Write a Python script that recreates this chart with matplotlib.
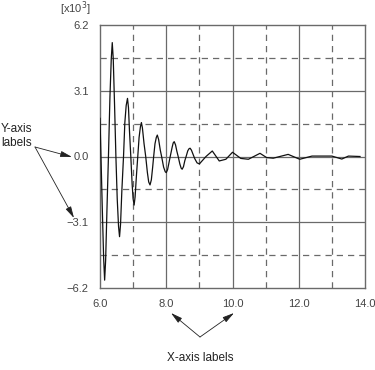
import matplotlib
matplotlib.use("Agg")
import matplotlib.pyplot as plt

# Signal values (in units of 10^3)
t_vals = [6.00, 6.07, 6.11, 6.14, 6.17, 6.21, 6.255, 6.30, 6.34, 6.37, 6.40,
          6.44, 6.48, 6.52, 6.56, 6.59, 6.62, 6.66, 6.71, 6.75, 6.79, 6.83,
          6.86, 6.89, 6.93, 6.97, 7.00, 7.03, 7.06, 7.10, 7.14, 7.18, 7.22,
          7.25, 7.28, 7.33, 7.38, 7.43, 7.47, 7.51, 7.55, 7.59, 7.62, 7.66,
          7.70, 7.73, 7.77, 7.82, 7.86, 7.92, 7.97, 8.00, 8.04, 8.12, 8.18,
          8.21, 8.24, 8.28, 8.32, 8.36, 8.41, 8.45, 8.48, 8.52, 8.56, 8.60,
          8.65, 8.69, 8.72, 8.76, 8.81, 8.86, 8.93, 9.00, 9.20, 9.39, 9.60,
          9.80, 10.00, 10.25, 10.48, 10.83, 11.03, 11.23, 11.68, 12.03,
          12.40, 13.00, 13.30, 13.50, 13.85]
v_vals = [1.8, -2.5, -4.8, -5.83, -4.9, -2.5, 0.0, 2.8, 4.6, 5.37, 4.6,
          2.4, 0.0, -2.0, -3.3, -3.78, -3.2, -1.6, 0.0, 1.6, 2.4, 2.74,
          2.3, 1.2, 0.0, -1.3, -2.0, -2.29, -1.9, -0.9, 0.0, 0.9, 1.4,
          1.60, 1.35, 0.6, 0.0, -0.75, -1.2, -1.34, -1.1, -0.5, 0.0, 0.6,
          0.9, 1.01, 0.8, 0.3, 0.0, -0.5, -0.72, -0.76, -0.62, 0.0, 0.45,
          0.64, 0.70, 0.55, 0.25, 0.0, -0.35, -0.55, -0.60, -0.48, -0.2, 0.0,
          0.27, 0.37, 0.39, 0.3, 0.1, -0.1, -0.3, -0.35, 0.0, 0.26, -0.21,
          -0.13, 0.20, -0.09, -0.13, 0.15, -0.05, -0.08, 0.10, -0.13,
          0.02, 0.02, -0.12, 0.02, 0.0]

x_major = [6.0, 8.0, 10.0, 12.0, 14.0]
x_minor = [7.0, 9.0, 11.0, 13.0]
x_labels = ["6.0", "8.0", "10.0", "12.0", "14.0"]
y_major = [-6.2, -3.1, 0.0, 3.1, 6.2]
y_minor = [-4.65, -1.55, 1.55, 4.65]
y_labels = ["\u22126.2", "\u22123.1", "0.0", "3.1", "6.2"]

plt.rcParams['font.family'] = ['Liberation Sans', 'DejaVu Sans']
W, H = 375, 370
fig = plt.figure(figsize=(W / 100, H / 100), dpi=100)
ax = fig.add_axes([100 / W, (H - 288) / H, 265 / W, 263 / H])

gcol = '#6a6a6a'
tcol = '#444444'
for xv in x_major[1:-1]:
    ax.axvline(xv, color=gcol, lw=0.9, zorder=1)
for xv in x_minor:
    ax.axvline(xv, color=gcol, lw=0.9, ls=(0, (5, 4)), zorder=1)
for yv in y_major[1:-1]:
    ax.axhline(yv, color=gcol, lw=0.9, zorder=1)
for yv in y_minor:
    ax.axhline(yv, color=gcol, lw=0.9, ls=(0, (5, 4)), zorder=1)

ax.plot(t_vals, v_vals, color='#111111', lw=0.9, zorder=3)

ax.set_xlim(6.0, 14.0)
ax.set_ylim(-6.2, 6.2)
ax.set_xticks(x_major)
ax.set_xticklabels(x_labels)
ax.set_yticks(y_major)
ax.set_yticklabels(y_labels)
ax.tick_params(length=0, labelsize=8, colors=tcol, pad=8)
for s in ax.spines.values():
    s.set_color(gcol)
    s.set_linewidth(1.0)

def fp(x, y):
    return (x, H - y)

fig.text(75 / W, (H - 9) / H, "[x10$^3$]", ha='center', va='center',
         fontsize=8, color=tcol)

# Y-axis annotation
fig.text(1 / W, (H - 136) / H, "Y-axis\nlabels", ha='left', va='center',
         fontsize=8.5, color='#222222', linespacing=1.25)
ap = dict(arrowstyle='-|>,head_length=0.7,head_width=0.18', lw=0.6,
          color='#222222', shrinkA=0, shrinkB=0)
ax.annotate("", xy=fp(72, 157), xycoords='figure pixels',
            xytext=fp(35, 147), textcoords='figure pixels', arrowprops=ap)
ax.annotate("", xy=fp(74, 218), xycoords='figure pixels',
            xytext=fp(35, 147), textcoords='figure pixels', arrowprops=ap)

# X-axis annotation
fig.text(200 / W, (H - 358) / H, "X-axis labels", ha='center', va='center',
         fontsize=8.5, color='#222222')
ax.annotate("", xy=fp(171, 313), xycoords='figure pixels',
            xytext=fp(200, 337), textcoords='figure pixels', arrowprops=ap)
ax.annotate("", xy=fp(234, 313), xycoords='figure pixels',
            xytext=fp(200, 337), textcoords='figure pixels', arrowprops=ap)

fig.savefig("out.png", dpi=100)
